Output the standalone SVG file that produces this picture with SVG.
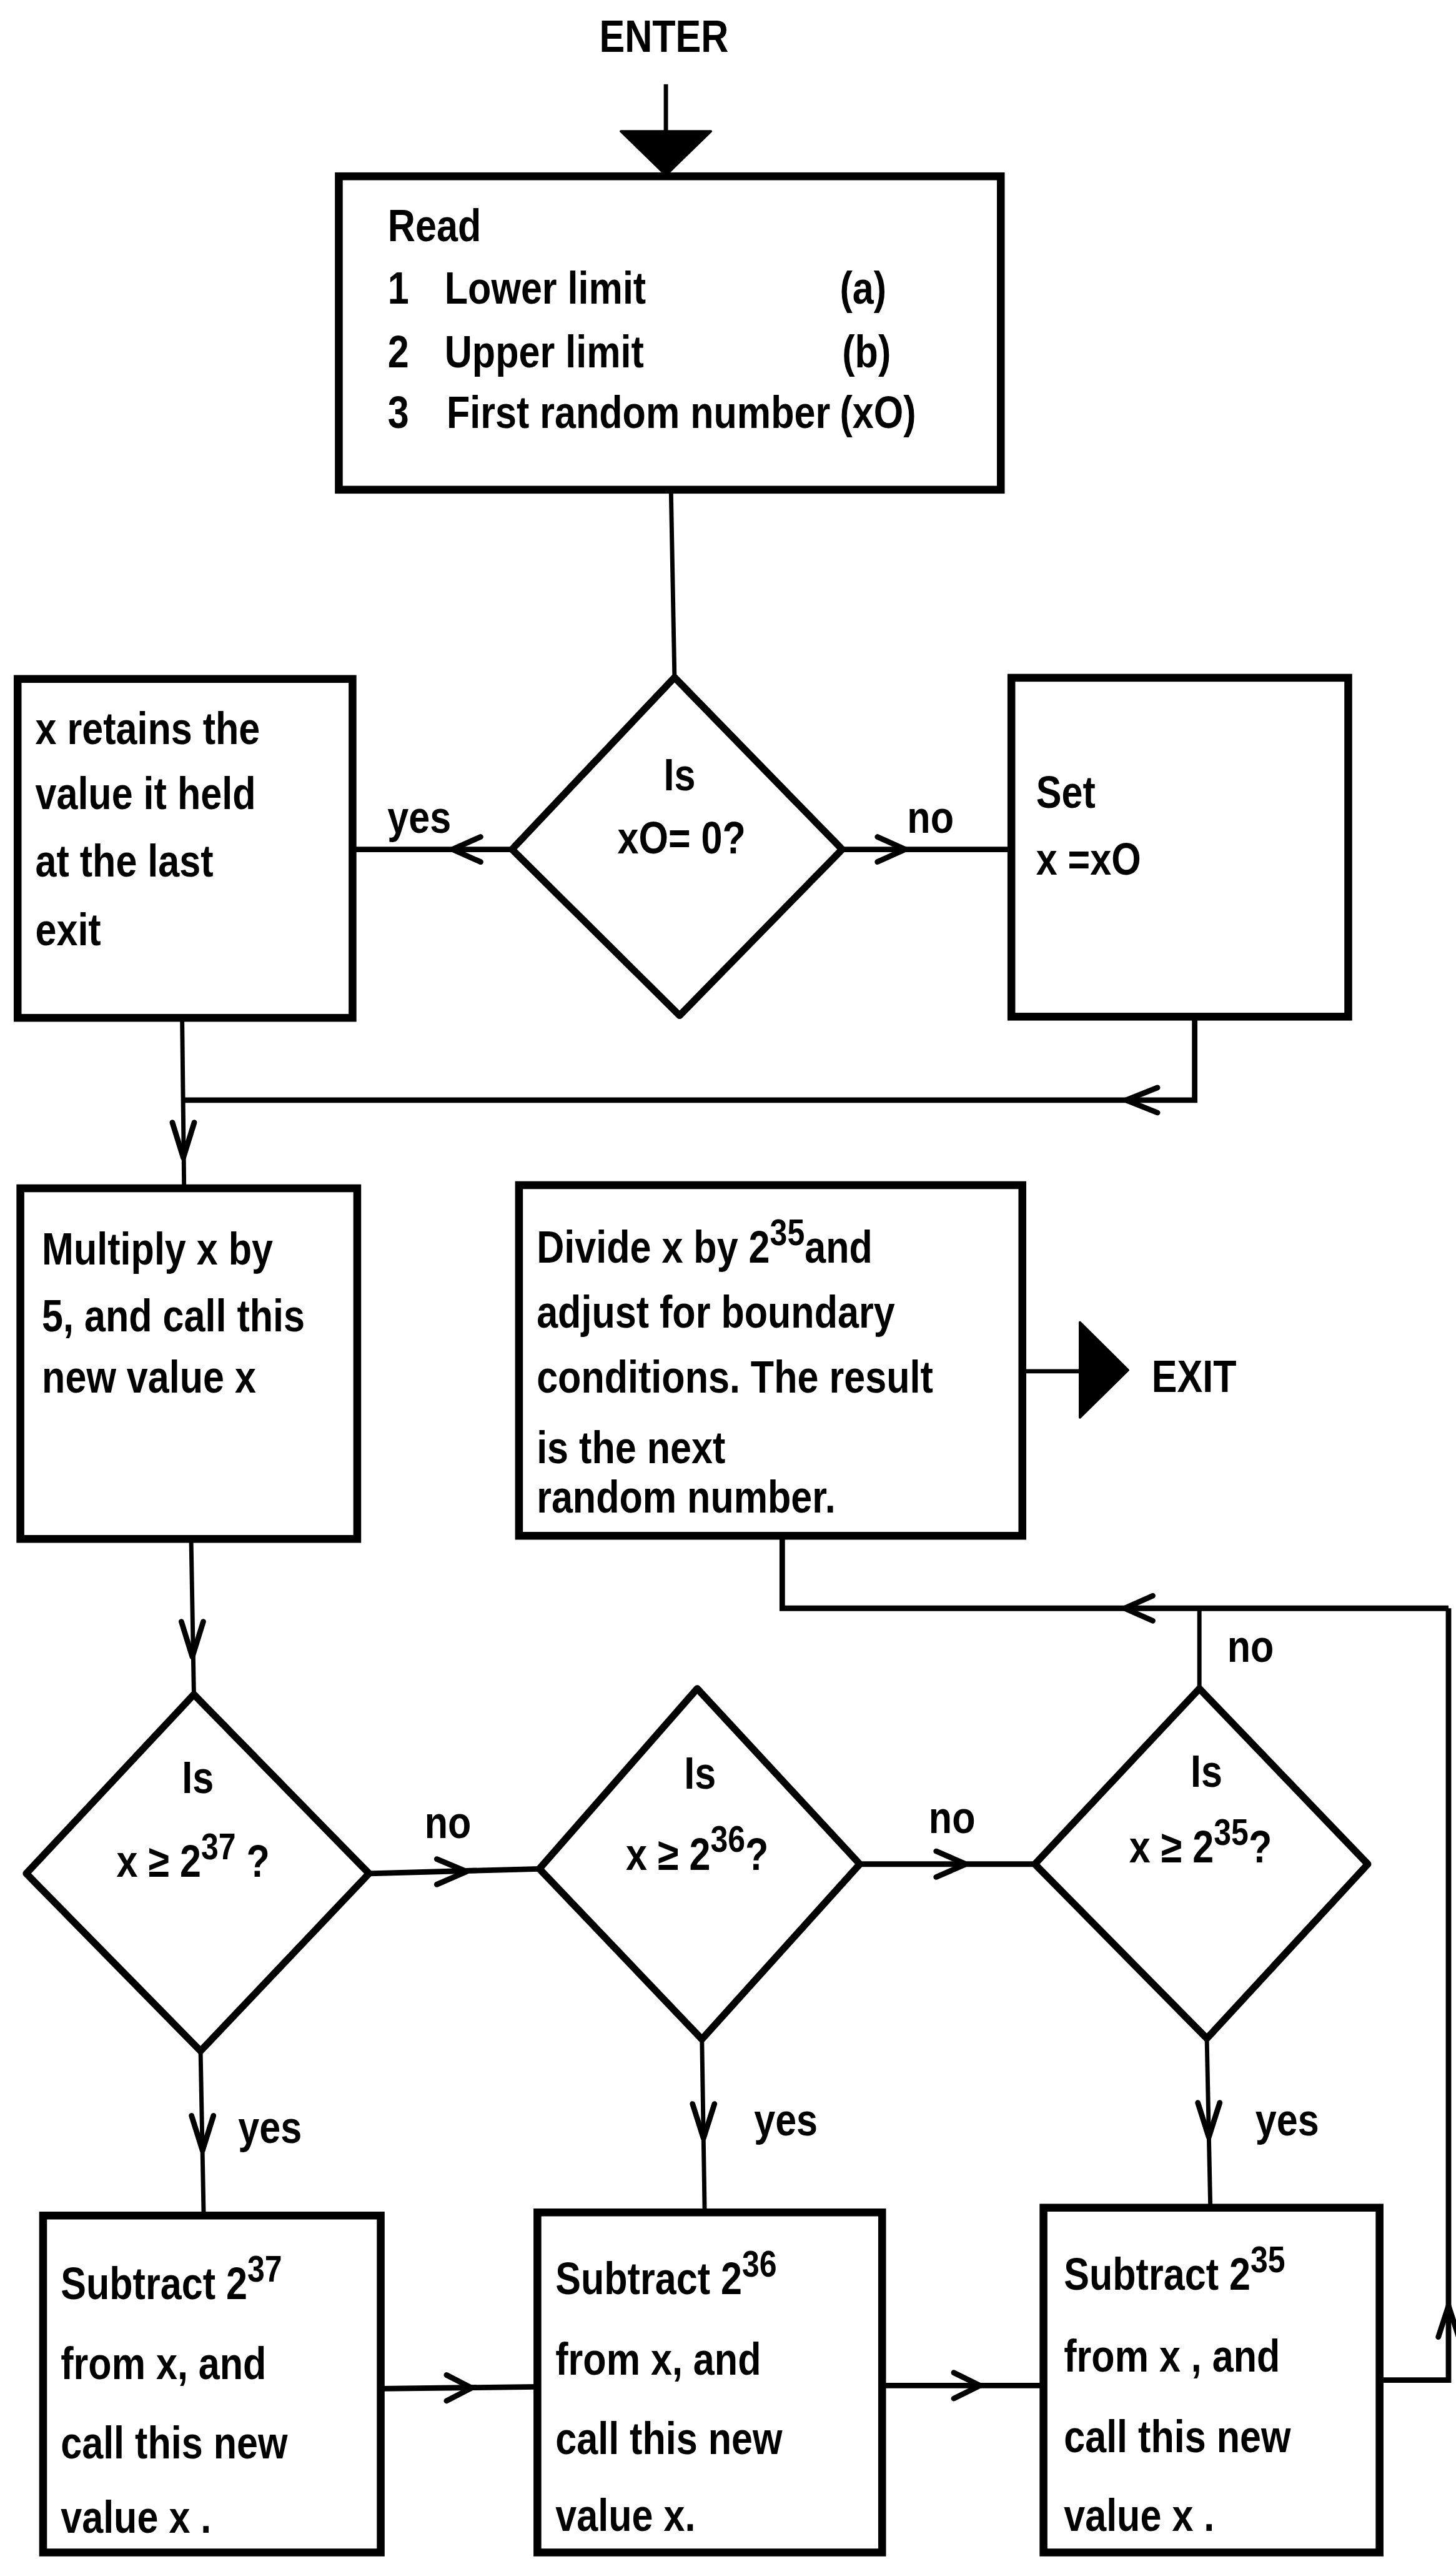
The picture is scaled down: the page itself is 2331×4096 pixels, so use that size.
<svg xmlns="http://www.w3.org/2000/svg" width="2331" height="4096" viewBox="0 0 2331 4096">
<style>
.t{font-family:"Liberation Sans",Arial,sans-serif;font-weight:bold;font-size:116px;fill:#000}
.m{text-anchor:middle}
.box{fill:#fff;stroke:#000;stroke-width:20}
.dia{fill:#fff;stroke:#000;stroke-width:18;stroke-linejoin:round}
.ln{fill:none;stroke:#000;stroke-width:11}
.hl{fill:none;stroke:#000;stroke-width:14}
.chev{fill:none;stroke:#000;stroke-width:14;stroke-linecap:round;stroke-linejoin:round}
.fill{fill:#000;stroke:#000;stroke-width:6;stroke-linejoin:round}
</style>
<rect width="2331" height="4096" fill="#fff"/>
<g transform="scale(0.6271)">
<g id="connectors">
  <line class="ln" x1="1700" y1="215" x2="1700" y2="340"/>
  <polygon class="fill" points="1585,335 1815,335 1700,447"/>
  <line class="ln" x1="1713" y1="1250" x2="1722" y2="1729"/>
  <line class="hl" x1="1307" y1="2168" x2="900" y2="2168"/>
  <polyline class="chev" points="1227,2136 1155,2168 1227,2200"/>
  <text class="t" transform="matrix(.84 0 0 1 989 2125)">yes</text>
  <line class="hl" x1="2150" y1="2168" x2="2582" y2="2168"/>
  <polyline class="chev" points="2240,2136 2311,2168 2240,2200"/>
  <text class="t" transform="matrix(.84 0 0 1 2316 2125)">no</text>
  <polyline class="hl" points="3050,2595 3050,2808 465,2808"/>
  <polyline class="chev" points="2955,2776 2875,2808 2955,2840"/>
  <line class="ln" x1="465" y1="2598" x2="470" y2="3033"/>
  <polyline class="chev" points="440,2865 468,2955 496,2865"/>
  <line class="ln" x1="2610" y1="3500" x2="2760" y2="3500"/>
  <polygon class="fill" points="2757,3375 2757,3618 2880,3497"/>
  <line class="ln" x1="488" y1="3928" x2="495" y2="4325"/>
  <polyline class="chev" points="463,4139 491,4229 519,4139"/>
  <polyline class="hl" points="1997,3920 1997,4105 3698,4105"/>
  <polyline class="chev" points="2943,4073 2871,4105 2943,4137"/>
  <line class="ln" x1="3062" y1="4105" x2="3062" y2="4310"/>
  <text class="t" transform="matrix(.84 0 0 1 3133 4242)">no</text>
  <line class="hl" x1="942" y1="4782" x2="1377" y2="4770"/>
  <polyline class="chev" points="1115,4745 1191,4777 1115,4810"/>
  <text class="t" transform="matrix(.84 0 0 1 1084 4691)">no</text>
  <line class="hl" x1="2195" y1="4758" x2="2642" y2="4758"/>
  <polyline class="chev" points="2390,4725 2466,4758 2390,4791"/>
  <text class="t" transform="matrix(.84 0 0 1 2371 4678)">no</text>
  <line class="ln" x1="512" y1="5235" x2="520" y2="5655"/>
  <polyline class="chev" points="489,5400 517,5489 545,5400"/>
  <text class="t" transform="matrix(.84 0 0 1 608 5470)">yes</text>
  <line class="ln" x1="1792" y1="5205" x2="1799" y2="5647"/>
  <polyline class="chev" points="1768,5370 1796,5458 1824,5370"/>
  <text class="t" transform="matrix(.84 0 0 1 1925 5450)">yes</text>
  <line class="ln" x1="3081" y1="5203" x2="3090" y2="5635"/>
  <polyline class="chev" points="3058,5367 3086,5455 3114,5367"/>
  <text class="t" transform="matrix(.84 0 0 1 3205 5450)">yes</text>
  <line class="hl" x1="972" y1="6097" x2="1372" y2="6092"/>
  <polyline class="chev" points="1140,6062 1204,6095 1140,6128"/>
  <line class="hl" x1="2252" y1="6089" x2="2664" y2="6089"/>
  <polyline class="chev" points="2435,6056 2502,6089 2435,6122"/>
  <polyline class="hl" points="3522,6075 3698,6075 3698,4105"/>
  <polyline class="chev" points="3672,5965 3698,5885 3724,5965"/>
</g>
<g id="enter"><text class="t m" transform="matrix(.84 0 0 1 1695 133)">ENTER</text></g>
<g id="read">
  <rect class="box" x="865" y="450" width="1690" height="800"/>
  <text class="t" transform="matrix(.84 0 0 1 990 615)">Read</text>
  <text class="t" transform="matrix(.84 0 0 1 990 775)">1</text>
  <text class="t" transform="matrix(.84 0 0 1 1135 775)">Lower limit</text>
  <text class="t" transform="matrix(.84 0 0 1 2144 775)">(a)</text>
  <text class="t" transform="matrix(.84 0 0 1 990 937)">2</text>
  <text class="t" transform="matrix(.84 0 0 1 1135 937)">Upper limit</text>
  <text class="t" transform="matrix(.84 0 0 1 2150 937)">(b)</text>
  <text class="t" transform="matrix(.84 0 0 1 990 1092)">3</text>
  <text class="t" transform="matrix(.84 0 0 1 1140 1092)">First random number</text>
  <text class="t" transform="matrix(.84 0 0 1 2144 1092)">(xO)</text>
</g>
<g id="d1">
  <polygon class="dia" points="1722,1729 2150,2168 1735,2592 1307,2168"/>
  <text class="t m" transform="matrix(.84 0 0 1 1735 2017)">Is</text>
  <text class="t m" transform="matrix(.84 0 0 1 1740 2179)">xO= 0?</text>
</g>
<g id="retain">
  <rect class="box" x="45" y="1733" width="855" height="865"/>
  <text class="t" transform="matrix(.84 0 0 1 90 1900)">x retains the</text>
  <text class="t" transform="matrix(.84 0 0 1 90 2065)">value it held</text>
  <text class="t" transform="matrix(.84 0 0 1 90 2237)">at the last</text>
  <text class="t" transform="matrix(.84 0 0 1 90 2412)">exit</text>
</g>
<g id="set">
  <rect class="box" x="2582" y="1730" width="860" height="865"/>
  <text class="t" transform="matrix(.84 0 0 1 2645 2062)">Set</text>
  <text class="t" transform="matrix(.84 0 0 1 2645 2233)">x =xO</text>
</g>
<g id="multiply">
  <rect class="box" x="52" y="3033" width="860" height="895"/>
  <text class="t" transform="matrix(.84 0 0 1 107 3228)">Multiply x by</text>
  <text class="t" transform="matrix(.84 0 0 1 107 3398)">5, and call this</text>
  <text class="t" transform="matrix(.84 0 0 1 107 3555)">new value x</text>
</g>
<g id="divide">
  <rect class="box" x="1325" y="3025" width="1285" height="895"/>
  <text class="t" transform="matrix(.84 0 0 1 1370 3223)">Divide x by 2<tspan dy="-45" font-size="95">35</tspan><tspan dy="45">and</tspan></text>
  <text class="t" transform="matrix(.84 0 0 1 1370 3389)">adjust for boundary</text>
  <text class="t" transform="matrix(.84 0 0 1 1370 3555)">conditions. The result</text>
  <text class="t" transform="matrix(.84 0 0 1 1370 3735)">is the next</text>
  <text class="t" transform="matrix(.84 0 0 1 1370 3860)">random number.</text>
</g>
<g id="exit"><text class="t" transform="matrix(.84 0 0 1 2940 3553)">EXIT</text></g>
<g id="dA">
  <polygon class="dia" points="495,4325 942,4782 512,5235 67,4782"/>
  <text class="t m" transform="matrix(.84 0 0 1 505 4577)">Is</text>
  <text class="t m" transform="matrix(.84 0 0 1 493 4790)">x ≥ 2<tspan dy="-45" font-size="95">37</tspan><tspan dy="45"> ?</tspan></text>
</g>
<g id="dB">
  <polygon class="dia" points="1780,4310 2195,4758 1792,5205 1377,4770"/>
  <text class="t m" transform="matrix(.84 0 0 1 1787 4566)">Is</text>
  <text class="t m" transform="matrix(.84 0 0 1 1780 4772)">x ≥ 2<tspan dy="-45" font-size="95">36</tspan><tspan dy="45">?</tspan></text>
</g>
<g id="dC">
  <polygon class="dia" points="3062,4310 3492,4758 3081,5203 2642,4758"/>
  <text class="t m" transform="matrix(.84 0 0 1 3080 4561)">Is</text>
  <text class="t m" transform="matrix(.84 0 0 1 3065 4754)">x ≥ 2<tspan dy="-45" font-size="95">35</tspan><tspan dy="45">?</tspan></text>
</g>
<g id="subA">
  <rect class="box" x="110" y="5655" width="862" height="860"/>
  <text class="t" transform="matrix(.84 0 0 1 155 5868)">Subtract 2<tspan dy="-45" font-size="95">37</tspan></text>
  <text class="t" transform="matrix(.84 0 0 1 155 6073)">from x, and</text>
  <text class="t" transform="matrix(.84 0 0 1 155 6275)">call this new</text>
  <text class="t" transform="matrix(.84 0 0 1 155 6464)">value  x .</text>
</g>
<g id="subB">
  <rect class="box" x="1372" y="5647" width="880" height="868"/>
  <text class="t" transform="matrix(.84 0 0 1 1418 5856)">Subtract 2<tspan dy="-45" font-size="95">36</tspan></text>
  <text class="t" transform="matrix(.84 0 0 1 1418 6062)">from x, and</text>
  <text class="t" transform="matrix(.84 0 0 1 1418 6263)">call this new</text>
  <text class="t" transform="matrix(.84 0 0 1 1418 6460)">value x.</text>
</g>
<g id="subC">
  <rect class="box" x="2664" y="5635" width="858" height="880"/>
  <text class="t" transform="matrix(.84 0 0 1 2716 5845)">Subtract 2<tspan dy="-45" font-size="95">35</tspan></text>
  <text class="t" transform="matrix(.84 0 0 1 2716 6054)">from x , and</text>
  <text class="t" transform="matrix(.84 0 0 1 2716 6259)">call this new</text>
  <text class="t" transform="matrix(.84 0 0 1 2716 6460)">value x .</text>
</g>
</g>
</svg>
